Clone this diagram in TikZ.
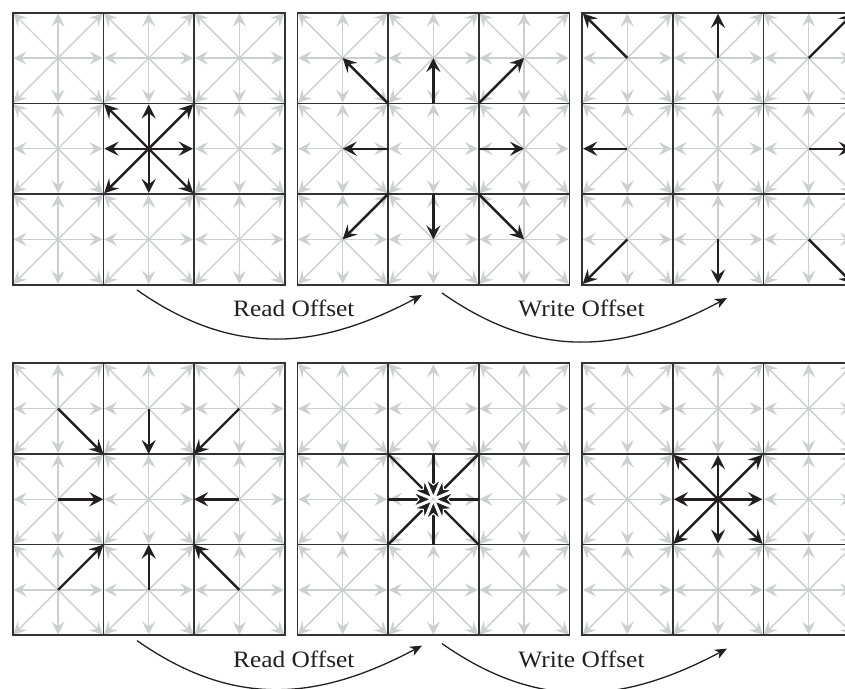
\documentclass[tikz,border=0pt]{standalone}
\usepackage{fontspec}
\usepackage{graphicx}
\setmainfont{Liberation Serif}
\usetikzlibrary{arrows.meta}
\definecolor{lightarr}{HTML}{CDCED0}
\definecolor{gridc}{HTML}{333333}
\definecolor{inkc}{HTML}{231F20}
\def\cs{90.67}
\tikzset{
  grayarrow/.style={draw=lightarr, line width=1.4pt, -{Stealth[length=13pt,width=13pt,inset=5pt]}, shorten >=0.8pt},
  gridline/.style={draw=gridc, line width=1.7pt},
  blackarrow/.style={draw=inkc, line width=2.4pt, -{Stealth[length=14pt,width=14pt,inset=5.5pt]}},
  burstarrow/.style={draw=inkc, line width=2.4pt, -{Stealth[length=21pt,width=17pt,inset=7pt,color=white,fill=inkc,line width=1.1pt]}, shorten >=1pt},
  curvearrow/.style={draw=inkc, line width=1.3pt, -{Stealth[length=12pt,width=10pt,inset=3.5pt]}},
  offsetlabel/.style={font=\fontsize{23.5}{27}\selectfont, text=inkc, anchor=base, inner sep=0pt}
}
\newcommand\grayfield[2]{%
  \foreach \i in {0,1,2}{\foreach \j in {0,1,2}{
    \foreach \dx/\dy in {-1/-1,0/-1,1/-1,-1/0,1/0,-1/1,0/1,1/1}{
      \draw[grayarrow] ({#1+(\i+0.5)*\cs},{#2+(\j+0.5)*\cs}) -- ++({(\dx)*\cs/2},{(\dy)*\cs/2});
    }}}
  \foreach \k in {1,2}{
    \draw[gridline] ({#1+\k*\cs},#2) -- ({#1+\k*\cs},{#2+3*\cs});
    \draw[gridline] (#1,{#2+\k*\cs}) -- ({#1+3*\cs},{#2+\k*\cs});
  }
  \draw[gridline] (#1,#2) rectangle ({#1+3*\cs},{#2+3*\cs});
}
\newcommand\blackset[5]{%
  \foreach \dx/\dy in {-1/-1,0/-1,1/-1,-1/0,1/0,-1/1,0/1,1/1}{
    \draw[#5] ({#1+1.5*\cs+(\dx)*#3*\cs},{#2+1.5*\cs+(\dy)*#3*\cs}) -- ({#1+1.5*\cs+(\dx)*#4*\cs},{#2+1.5*\cs+(\dy)*#4*\cs});
  }}
\begin{document}
\begin{tikzpicture}[x=1pt,y=-1pt]
\useasboundingbox (0,0) rectangle (845,688);
\fill[white] (0,0) rectangle (845,688);
\clip (0,0) rectangle (845,688);
% panels
\grayfield{12.7}{12.7}
\grayfield{297.35}{12.7}
\grayfield{582}{12.7}
\grayfield{12.7}{363.3}
\grayfield{297.35}{363.3}
\grayfield{582}{363.3}
% black arrows
\blackset{12.7}{12.7}{0}{0.5}{blackarrow, shorten >=1.2pt}
\blackset{297.35}{12.7}{0.5}{1}{blackarrow}
\blackset{582}{12.7}{1}{1.5}{blackarrow, shorten >=1.2pt}
\blackset{12.7}{363.3}{1}{0.5}{blackarrow}
\blackset{297.35}{363.3}{0.5}{0}{burstarrow}
\blackset{582}{363.3}{0}{0.5}{blackarrow, shorten >=1.2pt}
% curved arrows and labels
\coordinate (rs1) at (137,290);
\coordinate (re1) at (422,295);
\coordinate (ws1) at (442,293);
\coordinate (we1) at (727,298);
\coordinate (rs2) at (137,640.6);
\coordinate (re2) at (422,645.6);
\coordinate (ws2) at (442,643.6);
\coordinate (we2) at (727,648.6);
\draw[curvearrow] (rs1) .. controls (233.6,357.7) and (317.8,350.3) .. (re1);
\draw[curvearrow] (ws1) .. controls (538.6,360.7) and (622.8,353.3) .. (we1);
\draw[curvearrow] (rs2) .. controls (233.6,708.3) and (317.8,700.9) .. (re2);
\draw[curvearrow] (ws2) .. controls (538.6,711.3) and (622.8,703.9) .. (we2);
\node[offsetlabel] (readtop) at (293.8,316.7) {\scalebox{1.08}[1]{Read Offset}};
\node[offsetlabel] (writetop) at (581.5,316.7) {\scalebox{1.08}[1]{Write Offset}};
\node[offsetlabel] (readbot) at (293.8,667.5) {\scalebox{1.08}[1]{Read Offset}};
\node[offsetlabel] (writebot) at (581.5,667.5) {\scalebox{1.08}[1]{Write Offset}};
\end{tikzpicture}
\end{document}
